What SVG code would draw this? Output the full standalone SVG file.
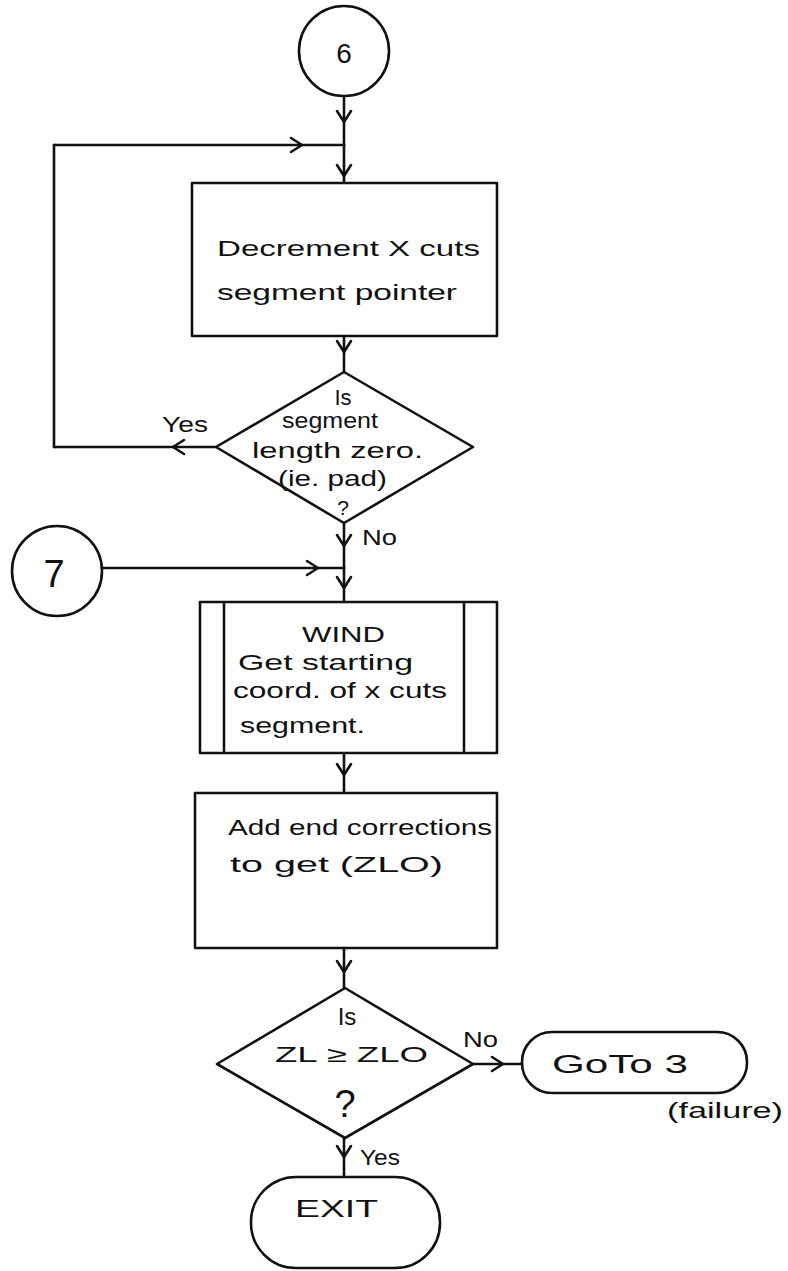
<svg xmlns="http://www.w3.org/2000/svg" width="788" height="1271" viewBox="0 0 788 1271">
  <style>
    .shape { fill: none; stroke: #111; stroke-width: 2.6; stroke-linejoin: round; }
    .wire { fill: none; stroke: #111; stroke-width: 2.6; stroke-linecap: round; }
    .t { font-family: "Liberation Sans", "DejaVu Sans", sans-serif; font-size: 22px; fill: #111; }
    .mid { text-anchor: middle; }
  </style>
  <defs>
    <!-- open chevron placed partway along a connector -->
    <marker id="chev" markerUnits="userSpaceOnUse" markerWidth="30" markerHeight="30" refX="0" refY="0" viewBox="-15 -15 30 30" orient="auto" overflow="visible">
      <path d="M-11,-7 L0,0 L-11,7" fill="none" stroke="#111" stroke-width="2.6" stroke-linecap="round" stroke-linejoin="round"/>
    </marker>
  </defs>
  <rect width="788" height="1271" fill="#fff"/>

  <!-- connectors -->
  <g id="connectors">
    <path class="wire" d="M344,97 L344,122 L344,145" marker-mid="url(#chev)"/>
    <path class="wire" d="M344,145 L344,176 L344,183" marker-mid="url(#chev)"/>
    <path class="wire" d="M344,336 L344,352 L344,372" marker-mid="url(#chev)"/>
    <!-- Yes loop back to the decrement step -->
    <path class="wire" d="M216,447 L173,447 L54,447" marker-mid="url(#chev)"/>
    <path class="wire" d="M54,447 L54,145"/>
    <path class="wire" d="M54,145 L302,145 L344,145" marker-mid="url(#chev)"/>
    <path class="wire" d="M344,523 L344,546 L344,568" marker-mid="url(#chev)"/>
    <path class="wire" d="M102,568 L318,568 L344,568" marker-mid="url(#chev)"/>
    <path class="wire" d="M344,568 L344,588 L344,602" marker-mid="url(#chev)"/>
    <path class="wire" d="M344,753 L344,775 L344,793" marker-mid="url(#chev)"/>
    <path class="wire" d="M344,948 L344,972 L344,988" marker-mid="url(#chev)"/>
    <path class="wire" d="M473,1064 L503,1064 L522,1064" marker-mid="url(#chev)"/>
    <path class="wire" d="M344,1138 L344,1157 L344,1177" marker-mid="url(#chev)"/>
    <text class="t" x="162" y="432" textLength="46" lengthAdjust="spacingAndGlyphs">Yes</text>
    <text class="t" x="362" y="545" textLength="35" lengthAdjust="spacingAndGlyphs">No</text>
    <text class="t" x="463" y="1047" textLength="35" lengthAdjust="spacingAndGlyphs">No</text>
    <text class="t" x="360" y="1165" textLength="40" lengthAdjust="spacingAndGlyphs">Yes</text>
  </g>

  <!-- entry connector 6 -->
  <g id="node-6">
    <circle class="shape" cx="344" cy="51" r="45"/>
    <text class="t mid" x="344" y="63" style="font-size:28px">6</text>
  </g>

  <g id="node-decrement">
    <rect class="shape" x="192" y="183" width="305" height="153"/>
    <text class="t" x="217" y="256" textLength="263" lengthAdjust="spacingAndGlyphs">Decrement X cuts</text>
    <text class="t" x="217" y="300" textLength="240" lengthAdjust="spacingAndGlyphs">segment pointer</text>
  </g>

  <g id="node-zero-test">
    <polygon class="shape" points="344,372 473,447 344,523 216,447"/>
    <text class="t mid" x="343" y="405" style="font-size:22px">Is</text>
    <text class="t" x="282" y="428" textLength="96" lengthAdjust="spacingAndGlyphs">segment</text>
    <text class="t" x="252" y="458" textLength="171" lengthAdjust="spacingAndGlyphs">length zero.</text>
    <text class="t" x="278" y="486" textLength="109" lengthAdjust="spacingAndGlyphs">(ie. pad)</text>
    <text class="t mid" x="343" y="515" style="font-size:21px">?</text>
  </g>

  <!-- entry connector 7 -->
  <g id="node-7">
    <circle class="shape" cx="57" cy="571" r="45"/>
    <text class="t mid" x="54" y="587" style="font-size:38px">7</text>
  </g>

  <!-- predefined process WIND -->
  <g id="node-wind">
    <rect class="shape" x="200" y="602" width="297" height="151"/>
    <line class="shape" x1="224" y1="602" x2="224" y2="753"/>
    <line class="shape" x1="464" y1="602" x2="464" y2="753"/>
    <text class="t" x="302" y="642" textLength="83" lengthAdjust="spacingAndGlyphs">WIND</text>
    <text class="t" x="238" y="670" textLength="175" lengthAdjust="spacingAndGlyphs">Get starting</text>
    <text class="t" x="233" y="698" textLength="214" lengthAdjust="spacingAndGlyphs">coord. of x cuts</text>
    <text class="t" x="240" y="733" textLength="125" lengthAdjust="spacingAndGlyphs">segment.</text>
  </g>

  <g id="node-end-corrections">
    <rect class="shape" x="195" y="793" width="302" height="155"/>
    <text class="t" x="228" y="835" textLength="264" lengthAdjust="spacingAndGlyphs">Add end corrections</text>
    <text class="t" x="230" y="872" textLength="213" lengthAdjust="spacingAndGlyphs">to get (ZLO)</text>
  </g>

  <g id="node-zl-test">
    <polygon class="shape" points="345,988 473,1064 345,1138 217,1064"/>
    <text class="t mid" x="347" y="1025" style="font-size:24px">Is</text>
    <text class="t" x="275" y="1062" textLength="153" lengthAdjust="spacingAndGlyphs">ZL ≥ ZLO</text>
    <text class="t mid" x="345" y="1117" style="font-size:38px">?</text>
  </g>

  <g id="node-goto">
    <rect class="shape" x="522" y="1032" width="225" height="61" rx="30" ry="30"/>
    <text class="t" x="552" y="1073" style="font-size:26px" textLength="136" lengthAdjust="spacingAndGlyphs">GoTo 3</text>
    <text class="t" x="667" y="1118" textLength="116" lengthAdjust="spacingAndGlyphs">(failure)</text>
  </g>

  <g id="node-exit">
    <rect class="shape" x="251" y="1177" width="189" height="91" rx="45" ry="45"/>
    <text class="t" x="295" y="1217" style="font-size:24px" textLength="83" lengthAdjust="spacingAndGlyphs">EXIT</text>
  </g>
</svg>
